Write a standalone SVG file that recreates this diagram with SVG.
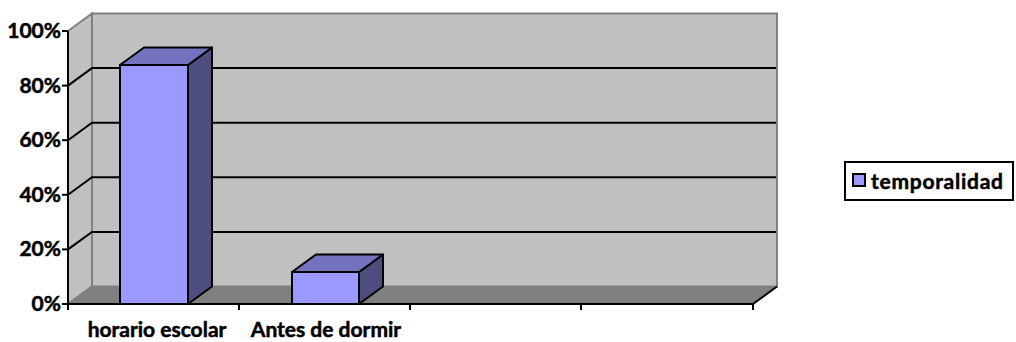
<svg xmlns="http://www.w3.org/2000/svg" width="1016" height="342" viewBox="0 0 1016 342">
<style>
.wall{fill:#C0C0C0;stroke:#808080;stroke-width:2}
.floor{fill:#808080;stroke:none}
.grid{stroke:#000;stroke-width:2;fill:none}
.axis{stroke:#000;stroke-width:2;fill:none}
.edge{stroke:#808080;stroke-width:2;fill:none}
.front{fill:#9999FF;stroke:#000;stroke-width:2;stroke-linejoin:round}
.top{fill:#7373BF;stroke:#000;stroke-width:2;stroke-linejoin:round}
.side{fill:#4D4D80;stroke:#000;stroke-width:2;stroke-linejoin:round}
.lbl{font-family:Lato,"Open Sans","Liberation Sans",sans-serif;font-weight:bold;font-size:21px;fill:#000;stroke:#000;stroke-width:0.5}
</style>
<rect width="1016" height="342" fill="#FFFFFF"/>
<g id="walls">
<polygon class="wall" points="92,13.5 777,13.5 777,286.5 92,286.5"/>
<polygon class="wall" points="68,31 92,13.5 92,286.5 68,304"/>
<polygon class="floor" points="68,304 92,286.5 777,286.5 753,304"/>
<line class="edge" x1="68" y1="304" x2="92" y2="286.5"/>
</g>
<g id="gridlines">
<polyline class="grid" points="68,85.6 92,68.1 776,68.1"/>
<polyline class="grid" points="68,140.2 92,122.7 776,122.7"/>
<polyline class="grid" points="68,194.8 92,177.3 776,177.3"/>
<polyline class="grid" points="68,249.4 92,231.9 776,231.9"/>
</g>
<g id="axes">
<line class="axis" x1="68" y1="31" x2="68" y2="310"/>
<line class="axis" x1="62" y1="31" x2="68" y2="31"/>
<line class="axis" x1="62" y1="85.6" x2="68" y2="85.6"/>
<line class="axis" x1="62" y1="140.2" x2="68" y2="140.2"/>
<line class="axis" x1="62" y1="194.8" x2="68" y2="194.8"/>
<line class="axis" x1="62" y1="249.4" x2="68" y2="249.4"/>
<line class="axis" x1="62" y1="304" x2="753" y2="304"/>
<line class="axis" x1="753" y1="304" x2="777" y2="286.5"/>
<line class="axis" x1="239" y1="304" x2="239" y2="310"/>
<line class="axis" x1="410" y1="304" x2="410" y2="310"/>
<line class="axis" x1="581" y1="304" x2="581" y2="310"/>
<line class="axis" x1="753" y1="304" x2="753" y2="310"/>
</g>
<g id="bar-horario-escolar">
<polygon class="side" points="188,65 212,47.5 212,286.5 188,304"/>
<polygon class="top" points="120,65 144,47.5 212,47.5 188,65"/>
<rect class="front" x="120" y="65" width="68" height="239"/>
</g>
<g id="bar-antes-de-dormir">
<polygon class="side" points="359,272 383,254.5 383,286.5 359,304"/>
<polygon class="top" points="292,272 316,254.5 383,254.5 359,272"/>
<rect class="front" x="292" y="272" width="67" height="32"/>
</g>
<g id="y-labels">
<text class="lbl" x="61" y="38" text-anchor="end">100%</text>
<text class="lbl" x="61" y="92.5" text-anchor="end">80%</text>
<text class="lbl" x="61" y="147" text-anchor="end">60%</text>
<text class="lbl" x="61" y="201.5" text-anchor="end">40%</text>
<text class="lbl" x="61" y="256" text-anchor="end">20%</text>
<text class="lbl" x="61" y="310.5" text-anchor="end">0%</text>
</g>
<g id="x-labels">
<text class="lbl" x="157" y="337" text-anchor="middle">horario escolar</text>
<text class="lbl" x="326" y="337" text-anchor="middle">Antes de dormir</text>
</g>
<g id="legend">
<rect x="845" y="162" width="168" height="38" fill="#FFFFFF" stroke="#000" stroke-width="2"/>
<rect x="853" y="174" width="12" height="12" fill="#9999FF" stroke="#000" stroke-width="2"/>
<text class="lbl" x="871" y="188.5" textLength="132" lengthAdjust="spacing">temporalidad</text>
</g>
</svg>
